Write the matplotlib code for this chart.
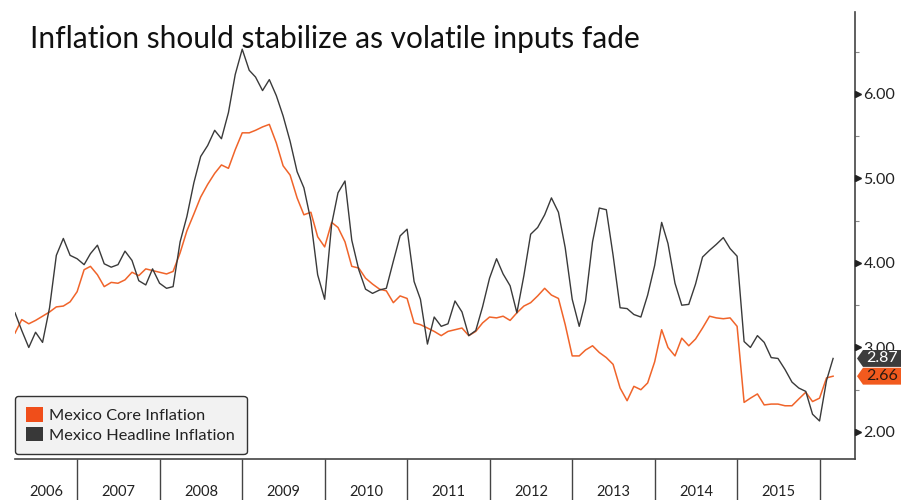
import numpy as np
import pandas as pd
import matplotlib
matplotlib.use("Agg")
import matplotlib.pyplot as plt
from matplotlib.patches import Patch, Polygon

plt.rcParams["font.family"] = ["Lato", "DejaVu Sans"]

# monthly year-over-year inflation, Mar 2006 .. Feb 2016
dates = pd.date_range("2006-03-31", "2016-02-29", freq="ME")

headline = [
    3.41, 3.20, 3.00, 3.18, 3.06, 3.47, 4.09, 4.29, 4.09, 4.05,
    3.98, 4.11, 4.21, 3.99, 3.95, 3.98, 4.14, 4.03, 3.79, 3.74, 3.93, 3.76,
    3.70, 3.72, 4.25, 4.55, 4.95, 5.26, 5.39, 5.57, 5.47, 5.78, 6.23, 6.53,
    6.28, 6.20, 6.04, 6.17, 5.98, 5.74, 5.44, 5.08, 4.89, 4.50, 3.86, 3.57,
    4.46, 4.83, 4.97, 4.27, 3.92, 3.69, 3.64, 3.68, 3.70, 4.02, 4.32, 4.40,
    3.78, 3.57, 3.04, 3.36, 3.25, 3.28, 3.55, 3.42, 3.14, 3.20, 3.48, 3.82,
    4.05, 3.87, 3.73, 3.41, 3.85, 4.34, 4.42, 4.57, 4.77, 4.60, 4.18, 3.57,
    3.25, 3.55, 4.25, 4.65, 4.63, 4.09, 3.47, 3.46, 3.39, 3.36, 3.62, 3.97,
    4.48, 4.23, 3.76, 3.50, 3.51, 3.75, 4.07, 4.15, 4.22, 4.30, 4.17, 4.08,
    3.07, 3.00, 3.14, 3.06, 2.88, 2.87, 2.74, 2.59, 2.52, 2.48, 2.21, 2.13,
    2.61, 2.87,
]

core = [
    3.17, 3.33, 3.28, 3.32, 3.37, 3.42, 3.48, 3.49, 3.54, 3.66,
    3.92, 3.96, 3.86, 3.72, 3.77, 3.76, 3.80, 3.89, 3.85, 3.93, 3.91, 3.89,
    3.87, 3.90, 4.12, 4.38, 4.58, 4.78, 4.93, 5.06, 5.16, 5.12, 5.34, 5.54,
    5.54, 5.57, 5.61, 5.64, 5.42, 5.15, 5.04, 4.77, 4.57, 4.60, 4.31, 4.19,
    4.48, 4.42, 4.25, 3.96, 3.94, 3.82, 3.75, 3.69, 3.67, 3.53, 3.61, 3.58,
    3.29, 3.27, 3.23, 3.19, 3.14, 3.19, 3.21, 3.23, 3.14, 3.19, 3.29, 3.36,
    3.35, 3.37, 3.32, 3.41, 3.49, 3.53, 3.61, 3.70, 3.62, 3.58, 3.27, 2.90,
    2.90, 2.97, 3.02, 2.94, 2.88, 2.80, 2.52, 2.37, 2.54, 2.50, 2.58, 2.83,
    3.21, 3.00, 2.90, 3.11, 3.02, 3.10, 3.23, 3.37, 3.35, 3.34, 3.35, 3.25,
    2.35, 2.40, 2.45, 2.32, 2.33, 2.33, 2.31, 2.31, 2.39, 2.47, 2.36, 2.40,
    2.64, 2.66,
]

years = list(range(2006, 2016))
y_ticks = [2.0, 3.0, 4.0, 5.0, 6.0]

ORANGE = "#F0642A"
DARK = "#3A3A3A"
TEXT = "#222222"

fig = plt.figure(figsize=(9.01, 5.0), dpi=100)
ax = fig.add_axes([15 / 901, 41 / 500, 840 / 901, 447 / 500])

ax.plot(dates, core, color=ORANGE, lw=1.1, label="Mexico Core Inflation", zorder=3)
ax.plot(dates, headline, color=DARK, lw=1.0, label="Mexico Headline Inflation", zorder=3)

x0 = dates[0]
x1 = pd.Timestamp("2016-06-05")
ax.set_xlim(x0, x1)
ax.set_ylim(1.68, 6.97)

for side in ("left", "top"):
    ax.spines[side].set_visible(False)
for side in ("right", "bottom"):
    ax.spines[side].set_color("#444444")
    ax.spines[side].set_linewidth(1.2)

# x axis: year separators as long ticks, year names centred between them
seps = [pd.Timestamp(f"{y}-01-01") for y in years[1:]] + [pd.Timestamp("2016-01-01")]
ax.set_xticks(seps)
ax.set_xticklabels([])
ax.tick_params(axis="x", which="major", length=30, width=1.0, color="#444444", direction="out")

centres = []
edges = [x0] + seps
for a, b in zip(edges[:-1], edges[1:]):
    centres.append(a + (b - a) / 2)
ax.set_xticks(centres, minor=True)
ax.set_xticklabels([str(y) for y in years], minor=True, fontsize=10.5, color=TEXT)
ax.tick_params(axis="x", which="minor", length=0, pad=18.5)

# y axis on the right
ax.yaxis.tick_right()
ax.set_yticks(y_ticks)
ax.set_yticklabels([f"{v:.2f}" for v in y_ticks], fontsize=11.5, color=TEXT)
ax.set_yticks(np.arange(2.5, 7.0, 1.0), minor=True)
ax.tick_params(axis="y", which="major", length=0, pad=6)
ax.tick_params(axis="y", which="minor", length=3, width=0.8, color="#888888", direction="out")

ytrans = ax.get_yaxis_transform()
ax.plot([1.0035] * len(y_ticks), y_ticks, ">", ms=5, color="#222222",
        transform=ytrans, clip_on=False, zorder=4)

# last-value tags
for val, face, fg in [(headline[-1], "#3C3C3C", "white"), (core[-1], "#F25A1E", "#2A1A10")]:
    h = 0.1
    pts = [(1.0024, val), (1.0095, val + h), (1.06, val + h), (1.06, val - h), (1.0095, val - h)]
    ax.add_patch(Polygon(pts, closed=True, facecolor=face, edgecolor="none",
                         transform=ytrans, clip_on=False, zorder=6))
    ax.text(1.032, val, f"{val:.2f}", transform=ytrans, ha="center", va="center",
            fontsize=11.5, color=fg, zorder=7)

handles = [Patch(facecolor="#F04E1A", edgecolor="none", label="Mexico Core Inflation"),
           Patch(facecolor="#383838", edgecolor="none", label="Mexico Headline Inflation")]
leg = ax.legend(handles=handles, loc="lower left", bbox_to_anchor=(0.0, 0.011),
                fontsize=11.8, handlelength=1.0, handleheight=1.0, handletextpad=0.4,
                labelspacing=0.2, borderpad=0.7, borderaxespad=0.0,
                fancybox=True, framealpha=1.0)
leg.get_frame().set_facecolor("#F2F2F2")
leg.get_frame().set_edgecolor("#333333")
leg.get_frame().set_linewidth(1.0)
for t in leg.get_texts():
    t.set_color(TEXT)

fig.text(30 / 901, 1 - 48 / 500, "Inflation should stabilize as volatile inputs fade",
         fontsize=21.5, color="#111111", va="baseline", ha="left")

fig.savefig("out.png", dpi=100)
